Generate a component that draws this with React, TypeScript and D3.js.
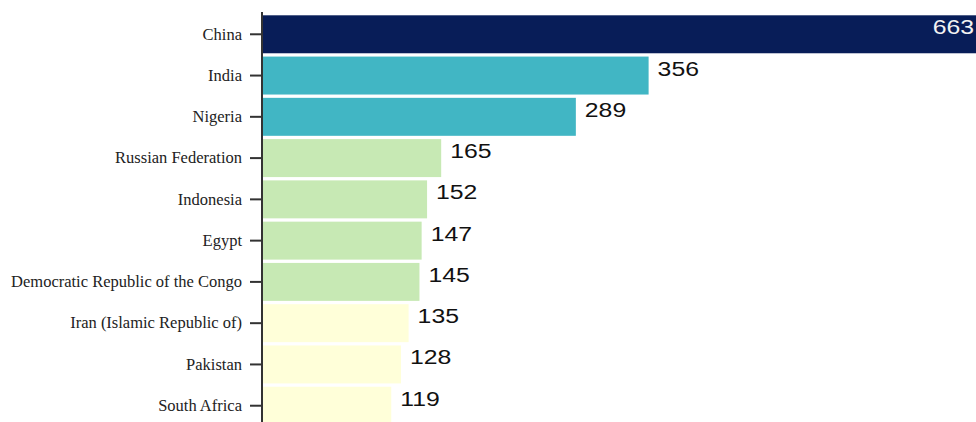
import React from "react";
import * as d3 from "d3";

const countries = [
  "China",
  "India",
  "Nigeria",
  "Russian Federation",
  "Indonesia",
  "Egypt",
  "Democratic Republic of the Congo",
  "Iran (Islamic Republic of)",
  "Pakistan",
  "South Africa",
];
const values = [663, 356, 289, 165, 152, 147, 145, 135, 128, 119];
const colorBreaks = [140, 200, 400];
const colorRange = ["#ffffd9", "#c7e9b4", "#41b6c4", "#081d58"];

export default function App() {
  const width = 976;
  const height = 422;
  const margin = { top: 12, left: 262 };
  const plotRight = 982; // the longest bar runs past the window edge
  const plotBottom = 428;
  const labelStretch = 1.18; // value labels are drawn a bit wide

  const data = countries.map((name, i) => ({ name, value: values[i] }));
  const maxValue = d3.max(values) as number;

  const xScale = d3.scaleLinear().domain([0, maxValue]).range([margin.left, plotRight]);
  const yScale = d3
    .scaleBand<string>()
    .domain(countries)
    .range([margin.top, plotBottom])
    .padding(0.08);
  const color = d3.scaleThreshold<number, string>().domain(colorBreaks).range(colorRange);

  const tickSize = 12;
  const tickPadding = 8;

  return (
    <div
      style={{
        position: "absolute",
        left: 0,
        top: 0,
        width,
        height,
        overflow: "hidden",
        background: "#fff",
      }}
    >
      <svg width={1000} height={height} style={{ display: "block" }}>
        {/* bars */}
        {data.map((d) => (
          <rect
            key={d.name}
            x={xScale(0)}
            y={yScale(d.name)}
            width={xScale(d.value) - xScale(0)}
            height={yScale.bandwidth()}
            fill={color(d.value)}
          />
        ))}

        {/* value labels */}
        {data.map((d) => {
          const inside = d.value === maxValue;
          const cy = (yScale(d.name) as number) + yScale.bandwidth() / 2;
          const lx = inside ? xScale(d.value) - 8 : xScale(d.value) + 9;
          return (
            <text
              key={d.name}
              transform={`translate(${lx},${cy}) scale(${labelStretch},1)`}
              textAnchor={inside ? "end" : "start"}
              fontFamily="'Liberation Sans', Arial, sans-serif"
              fontSize={21}
              fill={inside ? "#f2f2f2" : "#111"}
            >
              {d.value}
            </text>
          );
        })}

        {/* y axis */}
        <g className="y-axis">
          {countries.map((c) => {
            const cy = (yScale(c) as number) + yScale.bandwidth() / 2;
            return (
              <g key={c} transform={`translate(${margin.left},${cy})`}>
                <line x1={0} x2={-tickSize} stroke="#333" strokeWidth={2} />
                <text
                  x={-(tickSize + tickPadding)}
                  dy="0.32em"
                  textAnchor="end"
                  fontFamily="'Liberation Serif', 'Times New Roman', serif"
                  fontSize={16.5}
                  fill="#222"
                >
                  {c}
                </text>
              </g>
            );
          })}
          <line
            x1={margin.left}
            x2={margin.left}
            y1={margin.top}
            y2={plotBottom}
            stroke="#333"
            strokeWidth={2}
          />
        </g>
      </svg>
    </div>
  );
}
